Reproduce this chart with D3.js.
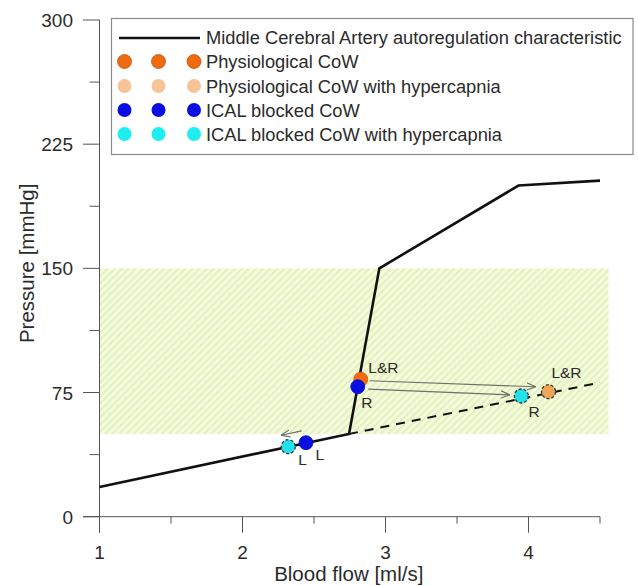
<!DOCTYPE html>
<html><head><meta charset="utf-8">
<script src="https://cdn.jsdelivr.net/npm/d3@7"></script>
<style>body{margin:0;background:#fff}svg{display:block;font-family:"Liberation Sans",Arial,sans-serif}</style>
</head><body><div id="chart"></div>
<script>
// ---- data ----
const curveFlow = [1, 2.745, 2.957, 3.93, 4.5];
const curvePressure = [18, 50, 150, 200, 203];
const dashFlow = [2.745, 4.5];
const dashPressure = [50, 81];
const bandFlow = [1, 4.56];
const bandPressure = [50, 150];
const xTicks = [1, 2, 3, 4];
const xMinorTicks = [1.5, 2.5, 3.5, 4.5];
const yTicks = [0, 75, 150, 225, 300];
const yMinorTicks = [37.5, 112.5, 187.5, 262.5];
const pointFlow = [2.827, 2.806, 2.444, 2.32, 3.95, 4.14];
const pointPressure = [83, 78.5, 44.7, 42.3, 72.9, 75.5];
const pointSeries = [0, 2, 2, 3, 3, 1];
const pointDashed = [false, false, false, true, true, true];
const arrowFromFlow = [2.89, 2.88, 2.414];
const arrowFromPressure = [82.1, 77, 51.8];
const arrowToFlow = [4.05, 3.87, 2.27];
const arrowToPressure = [78.5, 73.6, 49.2];
const labelText = ["L&R", "R", "L", "L", "L&R", "R"];
const labelFlow = [2.88, 2.83, 2.39, 2.51, 4.16, 4.0];
const labelPressure = [86.5, 65.5, 31.5, 34.5, 84, 60];
const seriesNames = ["Physiological CoW", "Physiological CoW with hypercapnia", "ICAL blocked CoW", "ICAL blocked CoW with hypercapnia"];
const seriesColors = ["#f26a10", "#f6c496", "#0a0ee0", "#1eeef2"];
const plotColors = ["#f26a10", "#efa558", "#0a0ee0", "#22e2ee"];
const lineLegend = "Middle Cerebral Artery autoregulation characteristic";

// ---- chart ----
const W = 638, H = 586;
const svg = d3.select("#chart").append("svg").attr("width", W).attr("height", H);
const x = d3.scaleLinear().domain([1, 4.5]).range([99.5, 600]);
const y = d3.scaleLinear().domain([0, 300]).range([516.7, 20]);

const defs = svg.append("defs");
const pat = defs.append("pattern").attr("id", "hatch").attr("patternUnits", "userSpaceOnUse")
  .attr("width", 5).attr("height", 5).attr("patternTransform", "rotate(45)");
pat.append("rect").attr("width", 5).attr("height", 5).attr("fill", "#f5fae2");
pat.append("rect").attr("width", 2.2).attr("height", 5).attr("fill", "#e3f2b8");
defs.append("marker").attr("id", "arr").attr("viewBox", "0 0 10 10").attr("refX", 10).attr("refY", 5)
  .attr("markerWidth", 9).attr("markerHeight", 9).attr("markerUnits", "userSpaceOnUse").attr("orient", "auto")
  .append("path").attr("d", "M0,1 L10,5 L0,9").attr("fill", "none").attr("stroke", "#6f6f6f").attr("stroke-width", 1.3);

// band
svg.append("rect").attr("x", x(bandFlow[0])).attr("y", y(bandPressure[1]))
  .attr("width", x(bandFlow[1]) - x(bandFlow[0])).attr("height", y(bandPressure[0]) - y(bandPressure[1]))
  .attr("fill", "url(#hatch)");

// axes
const axisColor = "#555";
const g = svg.append("g").attr("stroke", axisColor).attr("stroke-width", 1);
g.append("line").attr("x1", 83).attr("x2", x(4.5)).attr("y1", y(0)).attr("y2", y(0));
g.append("line").attr("x1", x(1)).attr("x2", x(1)).attr("y1", y(300)).attr("y2", y(0) + 16);
xTicks.forEach(t => g.append("line").attr("x1", x(t)).attr("x2", x(t)).attr("y1", y(0)).attr("y2", y(0) + 16));
xMinorTicks.forEach(t => g.append("line").attr("x1", x(t)).attr("x2", x(t)).attr("y1", y(0)).attr("y2", y(0) + 7));
yTicks.forEach(t => g.append("line").attr("x1", 83).attr("x2", x(1)).attr("y1", y(t)).attr("y2", y(t)));
yMinorTicks.forEach(t => g.append("line").attr("x1", x(1) - 10).attr("x2", x(1)).attr("y1", y(t)).attr("y2", y(t)));

const txt = "#2b2b2b";
svg.append("g").selectAll("text").data(xTicks).join("text")
  .attr("x", d => x(d)).attr("y", 559).attr("text-anchor", "middle").attr("font-size", 19).attr("fill", txt).text(d => d);
svg.append("g").selectAll("text").data(yTicks).join("text")
  .attr("x", 73).attr("y", d => y(d) + 7).attr("text-anchor", "end").attr("font-size", 19).attr("fill", txt).text(d => d);
svg.append("text").attr("x", x(2.75) - 1).attr("y", 581).attr("text-anchor", "middle").attr("font-size", 20.5).attr("fill", txt).text("Blood flow [ml/s]");
svg.append("text").attr("transform", `translate(34,${y(150) - 5}) rotate(-90)`).attr("text-anchor", "middle").attr("font-size", 20.5).attr("fill", txt).text("Pressure [mmHg]");

// curves
const line = d3.line().x(d => x(d[0])).y(d => y(d[1]));
svg.append("path").attr("d", line(dashFlow.map((f, i) => [f, dashPressure[i]])))
  .attr("fill", "none").attr("stroke", "#111").attr("stroke-width", 2).attr("stroke-dasharray", "9,7");
svg.append("path").attr("d", line(curveFlow.map((f, i) => [f, curvePressure[i]])))
  .attr("fill", "none").attr("stroke", "#111").attr("stroke-width", 2.6).attr("stroke-linejoin", "miter");

// arrows
arrowFromFlow.forEach((f, i) => {
  svg.append("line").attr("x1", x(f)).attr("y1", y(arrowFromPressure[i])).attr("x2", x(arrowToFlow[i])).attr("y2", y(arrowToPressure[i]))
    .attr("stroke", "#6f6f6f").attr("stroke-width", 1.2).attr("marker-end", "url(#arr)");
});

// points
pointFlow.forEach((f, i) => {
  svg.append("circle").attr("cx", x(f)).attr("cy", y(pointPressure[i])).attr("r", 7)
    .attr("fill", plotColors[pointSeries[i]])
    .attr("stroke", pointDashed[i] ? "#333" : d3.color(plotColors[pointSeries[i]]).darker(0.4))
    .attr("stroke-width", pointDashed[i] ? 1.3 : 0.8)
    .attr("stroke-dasharray", pointDashed[i] ? "3,2" : null);
});

// labels
labelText.forEach((t, i) => {
  svg.append("text").attr("x", x(labelFlow[i])).attr("y", y(labelPressure[i])).attr("font-size", 15.5).attr("fill", txt).text(t);
});

// legend
const lg = svg.append("g");
lg.append("rect").attr("x", 111.5).attr("y", 18.5).attr("width", 521.5).attr("height", 136)
  .attr("fill", "#fff").attr("stroke", "#8a8a8a").attr("stroke-width", 1.2);
lg.append("line").attr("x1", 119).attr("x2", 200).attr("y1", 38).attr("y2", 38).attr("stroke", "#111").attr("stroke-width", 2.4);
lg.append("text").attr("x", 206).attr("y", 44).attr("font-size", 18.3).attr("fill", txt).text(lineLegend);
const rowY = [61.5, 86, 110, 134];
seriesNames.forEach((n, i) => {
  [124.5, 158.5, 194].forEach(cx => lg.append("circle").attr("cx", cx).attr("cy", rowY[i]).attr("r", 7)
    .attr("fill", seriesColors[i]).attr("stroke", i === 0 ? "#b34a08" : "none").attr("stroke-width", 0.7));
  lg.append("text").attr("x", 206).attr("y", rowY[i] + 6.5).attr("font-size", 18.3).attr("fill", txt).text(n);
});
</script></body></html>
